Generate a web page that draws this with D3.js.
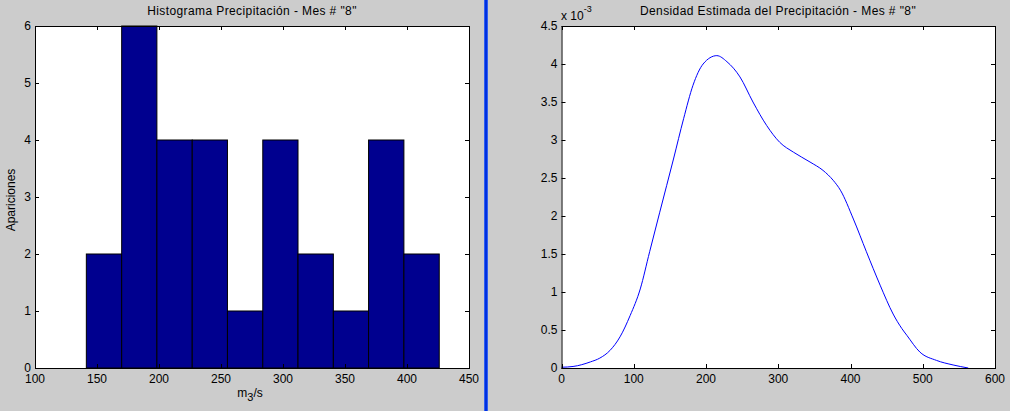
<!DOCTYPE html>
<html>
<head>
<meta charset="utf-8">
<script src="https://cdn.jsdelivr.net/npm/d3@7/dist/d3.min.js"></script>
<style>
  body { margin: 0; background: #cccccc; }
  svg { display: block; }
  text { font-family: "Liberation Sans", Arial, sans-serif; font-size: 11px; fill: #000; }
  text.tick { font-size: 12px; }
  text.title { font-size: 12px; letter-spacing: 0.4px; }
</style>
</head>
<body>
<script>
// histogram data (precipitation, month 8)
let binEdges = [141.4, 169.9, 198.3, 226.8, 255.2, 283.7, 312.1, 340.6, 369.0, 397.5, 426.0];
let counts = [2, 6, 4, 4, 1, 4, 2, 1, 4, 2];
let histXTicks = [100, 150, 200, 250, 300, 350, 400, 450];
let histYTicks = [0, 1, 2, 3, 4, 5, 6];

// estimated density (values x 10^-3)
let densX = [0, 16, 40, 53, 67, 81, 95, 109, 122, 136, 155, 169, 182, 196, 215, 229, 247, 265, 284, 302, 321, 344, 362, 376, 386, 404, 422, 441, 459, 471, 478, 496, 519, 542, 563];
let densY = [0.01, 0.02, 0.08, 0.13, 0.23, 0.41, 0.69, 1.04, 1.53, 2.05, 2.75, 3.28, 3.72, 4.0, 4.11, 4.03, 3.83, 3.5, 3.19, 2.97, 2.84, 2.71, 2.6, 2.47, 2.34, 1.96, 1.53, 1.09, 0.71, 0.52, 0.43, 0.21, 0.1, 0.04, 0.0];
let densXTicks = [0, 100, 200, 300, 400, 500, 600];
let densYTicks = [0, 0.5, 1, 1.5, 2, 2.5, 3, 3.5, 4, 4.5];

let width = 1010, height = 411;
let svg = d3.select("body").append("svg").attr("width", width).attr("height", height);

// draws a matlab style box with inward ticks on all sides
function drawBox(g, x, y, xTicks, yTicks, fmtY) {
    let [x0, x1] = x.range();
    let [y0, y1] = y.range();
    g.append("rect")
        .attr("x", x0).attr("y", y1)
        .attr("width", x1 - x0).attr("height", y0 - y1)
        .attr("fill", "#fff");
    return function frame() {
        let tl = 4;
        xTicks.forEach((t) => {
            let px = Math.round(x(t)) + 0.5;
            g.append("line").attr("x1", px).attr("x2", px).attr("y1", y0).attr("y2", y0 - tl).attr("stroke", "#000");
            g.append("line").attr("x1", px).attr("x2", px).attr("y1", y1).attr("y2", y1 + tl).attr("stroke", "#000");
            g.append("text").attr("class", "tick").attr("x", x(t)).attr("y", y0 + 15).attr("text-anchor", "middle").text(t);
        });
        yTicks.forEach((t) => {
            let py = Math.round(y(t)) + 0.5;
            g.append("line").attr("x1", x0).attr("x2", x0 + tl).attr("y1", py).attr("y2", py).attr("stroke", "#000");
            g.append("line").attr("x1", x1).attr("x2", x1 - tl).attr("y1", py).attr("y2", py).attr("stroke", "#000");
            g.append("text").attr("class", "tick").attr("x", x0 - 4).attr("y", y(t)).attr("dy", "0.35em").attr("text-anchor", "end").text(fmtY(t));
        });
        g.append("rect")
            .attr("x", x0 + 0.5).attr("y", y1 + 0.5)
            .attr("width", x1 - x0).attr("height", y0 - y1)
            .attr("fill", "none").attr("stroke", "#000");
    };
}

// ---- left: histogram ----
let hx = d3.scaleLinear().domain([100, 450]).range([35, 469]);
let hy = d3.scaleLinear().domain([0, 6]).range([368, 26]);
let left = svg.append("g");
let leftFrame = drawBox(left, hx, hy, histXTicks, histYTicks, (d) => d);

left.selectAll("rect.bar")
    .data(counts)
    .enter().append("rect")
    .attr("class", "bar")
    .attr("x", (d, i) => hx(binEdges[i]))
    .attr("width", (d, i) => hx(binEdges[i + 1]) - hx(binEdges[i]))
    .attr("y", (d) => hy(d))
    .attr("height", (d) => hy(0) - hy(d))
    .attr("fill", "#00008f")
    .attr("stroke", "#000");

leftFrame();

left.append("text").attr("class", "title").attr("x", 252).attr("y", 15).attr("text-anchor", "middle")
    .text("Histograma Precipitación - Mes # \"8\"");
left.append("text").attr("class", "tick").attr("transform", "translate(15,200) rotate(-90)").attr("text-anchor", "middle")
    .text("Apariciones");
let xl = left.append("text").attr("class", "tick").attr("x", 250).attr("y", 397).attr("text-anchor", "middle");
xl.append("tspan").text("m");
xl.append("tspan").attr("dy", 4).attr("font-size", "11px").text("3");
xl.append("tspan").attr("dy", -4).text("/s");

// ---- divider ----
svg.append("rect").attr("x", 484).attr("y", 0).attr("width", 4).attr("height", height).attr("fill", "#3060f0");
svg.append("rect").attr("x", 485).attr("y", 0).attr("width", 2).attr("height", height).attr("fill", "#0030e0");

// ---- right: density ----
let dx = d3.scaleLinear().domain([0, 600]).range([561.5, 995]);
let dy = d3.scaleLinear().domain([0, 4.5]).range([368, 26]);
let right = svg.append("g");
let rightFrame = drawBox(right, dx, dy, densXTicks, densYTicks, (d) => d);

let line = d3.line()
    .x((d, i) => dx(densX[i]))
    .y((d) => dy(d))
    .curve(d3.curveMonotoneX);

right.append("path")
    .attr("d", line(densY))
    .attr("fill", "none")
    .attr("stroke", "#0000ff")
    .attr("stroke-width", 1);

rightFrame();

right.append("text").attr("class", "title").attr("x", 778).attr("y", 15).attr("text-anchor", "middle")
    .text("Densidad Estimada del Precipitación - Mes # \"8\"");
let ex = right.append("text").attr("class", "tick").attr("x", 561).attr("y", 20);
ex.append("tspan").text("x 10");
ex.append("tspan").attr("dy", -8).attr("font-size", "9px").text("-3");
</script>
</body>
</html>
